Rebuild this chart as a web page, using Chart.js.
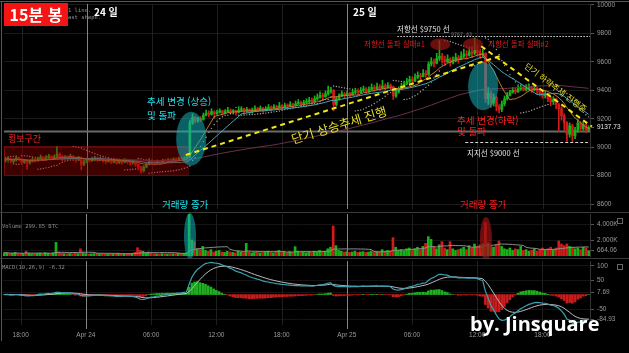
<!DOCTYPE html>
<html lang="ko">
<head>
<meta charset="utf-8">
<title>15분 봉</title>
<script src="https://cdn.jsdelivr.net/npm/chart.js@4.4.1/dist/chart.umd.min.js"></script>
<style>
html,body{margin:0;padding:0;background:#000;overflow:hidden;}
#wrap{position:relative;width:629px;height:353px;background:#000;overflow:hidden;}
#wrap canvas{position:absolute;left:0;display:block;}
.t{position:absolute;white-space:nowrap;line-height:1;font-family:"Noto Sans CJK KR","Noto Sans",sans-serif;}
.mono{font-family:"DejaVu Sans Mono",monospace;color:#8e8e8e;font-size:5.5px;}
.rule{position:absolute;background:#3a3a3a;}
.rot{transform-origin:50% 50%;}
</style>
</head>
<body>
<div id="wrap">
<canvas id="cPrice" width="629" height="213" style="top:0"></canvas>
<canvas id="cVol" width="629" height="45" style="top:213px"></canvas>
<canvas id="cMacd" width="629" height="95" style="top:258px"></canvas>

<div class="rule" style="left:0;top:1px;width:629px;height:1px;background:#555"></div>
<div class="rule" style="left:1px;top:1px;width:1px;height:340px;background:#555"></div>
<div class="rule" style="left:0;top:212px;width:629px;height:1px"></div>
<div class="rule" style="left:0;top:258px;width:629px;height:1px"></div>
<div class="rule" style="left:617px;top:218px;width:4px;height:4px;background:none;border:1px solid #666"></div>
<div class="rule" style="left:617px;top:264px;width:4px;height:4px;background:none;border:1px solid #666"></div>

<div class="t mono" style="left:68px;top:8px">1 line.</div>
<div class="t mono" style="left:68px;top:15px">ast shape.</div>
<div class="t" style="left:4px;top:3px;width:64px;height:23px;background:#f51414;color:#fff;font-weight:700;font-size:16px;line-height:23px;text-align:center">15분 봉</div>
<div class="t" style="left:94px;top:7px;color:#fff;font-size:10px;font-weight:700">24 일</div>
<div class="t" style="left:353px;top:7px;color:#fff;font-size:10px;font-weight:700">25 일</div>
<div class="t" style="left:397px;top:25px;color:#e6e6e6;font-size:7.5px">저항선 $9750 선</div>
<div class="t mono" style="left:451px;top:32px;font-size:5px;color:#777">9767.43</div>
<div class="t" style="left:364px;top:40px;color:#e41b1b;font-size:7.5px">저항선 돌파 실패#1</div>
<div class="t" style="left:488px;top:40px;color:#e41b1b;font-size:7.5px">저항선 돌파 실패#2</div>
<div class="t" style="left:147px;top:97px;color:#1ee6f2;font-size:9.5px">추세 변경 (상승)</div>
<div class="t" style="left:147px;top:111px;color:#1ee6f2;font-size:9.5px">및 돌파</div>
<div class="t" style="left:8px;top:134px;color:#ff2222;font-size:9px">횡보구간</div>
<div class="t rot" style="left:339px;top:125px;color:#e6dc28;font-size:12.5px;transform:translate(-50%,-50%) rotate(-17deg)">단기 상승추세 진행</div>
<div class="t rot" style="left:556px;top:87px;color:#e6dc28;font-size:8.5px;transform:translate(-50%,-50%) rotate(37deg)">단기 하락추세 진행중</div>
<div class="t" style="left:457px;top:116px;color:#ff2020;font-size:9.5px">추세 변경(하락)</div>
<div class="t" style="left:457px;top:127px;color:#ff2020;font-size:9.5px">및 돌파</div>
<div class="t" style="left:467px;top:149px;color:#e6e6e6;font-size:7.5px">지지선 $9000 선</div>
<div class="t" style="left:162px;top:200px;color:#1ee6f2;font-size:9.5px">거래량 증가</div>
<div class="t" style="left:460px;top:200px;color:#ff2020;font-size:9.5px">거래량 증가</div>
<div class="t mono" style="left:2px;top:224px">Volume 299.85 BTC</div>
<div class="t mono" style="left:2px;top:265px">MACD(10,26,9) -6.32</div>
<div class="t" style="left:470px;top:314px;color:#fff;font-size:20px;font-weight:700;font-family:'Open Sans','Noto Sans',sans-serif">by. Jinsquare</div>
</div>

<script>
// ---------------- DATA (15-minute candles) ----------------
const firstOpen = 8905;
const closes = [
  8915, 8920, 8900, 8910, 8925, 8915, 8895, 8905, 8890, 8900, 8910, 8905,
  8920, 8930, 8915, 8925, 8935, 8920, 8930, 8950, 8935, 8920, 8930, 8925,
  8935, 8920, 8910, 8925, 8880, 8895, 8910, 8905, 8915, 8925, 8910, 8920,
  8905, 8900, 8910, 8895, 8905, 8890, 8900, 8895, 8910, 8900, 8890, 8895,
  8880, 8860, 8835, 8860, 8880, 8905, 8895, 8890, 8900, 8895, 8905, 8900,
  8910, 8905, 8915, 8910, 8920, 8915, 8925, 8930, 9170, 9210, 9185, 9200,
  9195, 9225, 9240, 9230, 9250, 9235, 9245, 9255, 9240, 9250, 9260, 9250,
  9255, 9245, 9260, 9270, 9255, 9265, 9250, 9260, 9270, 9265, 9275, 9260,
  9270, 9280, 9275, 9285, 9280, 9290, 9285, 9295, 9290, 9300, 9295, 9305,
  9315, 9305, 9315, 9320, 9330, 9320, 9340, 9350, 9365, 9355, 9375, 9395,
  9400, 9300, 9340, 9360, 9375, 9365, 9380, 9370, 9385, 9395, 9385, 9400,
  9410, 9395, 9405, 9420, 9410, 9425, 9415, 9430, 9420, 9435, 9425, 9360,
  9390, 9410, 9430, 9445, 9460, 9475, 9465, 9490, 9505, 9495, 9520, 9510,
  9585, 9600, 9590, 9625, 9640, 9615, 9600, 9620, 9595, 9610, 9630, 9615,
  9640, 9655, 9645, 9670, 9660, 9680, 9665, 9650, 9660, 9340, 9380, 9310,
  9350, 9285, 9265, 9305, 9340, 9365, 9385, 9400, 9390, 9410, 9420, 9405,
  9415, 9420, 9405, 9415, 9395, 9380, 9360, 9370, 9340, 9320, 9335, 9300,
  9270, 9220, 9170, 9090, 9150, 9080, 9120, 9170, 9130, 9160, 9120, 9137.73
];
const highs = [
  8930, 8935, 8925, 8920, 8940, 8930, 8920, 8915, 8910, 8910, 8925, 8920,
  8930, 8945, 8935, 8940, 8950, 8940, 8945, 9005, 8960, 8945, 8940, 8940,
  8950, 8940, 8930, 8935, 8930, 8910, 8920, 8920, 8930, 8935, 8930, 8930,
  8925, 8915, 8920, 8915, 8915, 8910, 8910, 8905, 8920, 8915, 8905, 8905,
  8900, 8885, 8865, 8870, 8890, 8920, 8910, 8905, 8910, 8905, 8915, 8915,
  8920, 8920, 8925, 8925, 8930, 8930, 8935, 8945, 9190, 9235, 9215, 9210,
  9215, 9240, 9260, 9255, 9270, 9255, 9260, 9270, 9260, 9265, 9280, 9270,
  9265, 9260, 9285, 9285, 9275, 9280, 9270, 9275, 9290, 9280, 9290, 9280,
  9285, 9300, 9290, 9300, 9295, 9315, 9300, 9310, 9305, 9320, 9310, 9325,
  9335, 9325, 9330, 9340, 9350, 9345, 9360, 9375, 9390, 9380, 9395, 9430,
  9420, 9405, 9355, 9375, 9395, 9385, 9395, 9385, 9400, 9415, 9410, 9420,
  9430, 9420, 9425, 9445, 9435, 9450, 9440, 9470, 9445, 9455, 9445, 9430,
  9405, 9425, 9450, 9465, 9485, 9500, 9495, 9515, 9530, 9520, 9545, 9540,
  9600, 9630, 9620, 9660, 9750, 9660, 9640, 9650, 9630, 9635, 9660, 9645,
  9670, 9690, 9680, 9700, 9710, 9767.43, 9720, 9690, 9690, 9665, 9420, 9395,
  9375, 9360, 9300, 9325, 9360, 9385, 9400, 9420, 9415, 9430, 9440, 9435,
  9440, 9445, 9430, 9435, 9425, 9410, 9395, 9395, 9380, 9355, 9355, 9345,
  9310, 9285, 9235, 9180, 9170, 9160, 9140, 9195, 9180, 9180, 9165, 9150
];
const lows = [
  8895, 8905, 8890, 8880, 8900, 8905, 8880, 8885, 8845, 8880, 8895, 8895,
  8900, 8915, 8905, 8910, 8920, 8910, 8915, 8925, 8920, 8905, 8915, 8910,
  8920, 8905, 8895, 8905, 8840, 8870, 8890, 8895, 8900, 8905, 8900, 8905,
  8895, 8885, 8895, 8885, 8890, 8880, 8885, 8880, 8890, 8885, 8875, 8880,
  8865, 8840, 8817.2, 8825, 8855, 8875, 8880, 8875, 8885, 8880, 8890, 8890,
  8895, 8895, 8900, 8900, 8905, 8905, 8910, 8915, 8925, 9160, 9170, 9175,
  9180, 9190, 9220, 9215, 9225, 9205, 9230, 9240, 9225, 9235, 9245, 9235,
  9240, 9225, 9240, 9250, 9240, 9245, 9235, 9240, 9255, 9250, 9255, 9245,
  9255, 9265, 9255, 9270, 9265, 9275, 9270, 9275, 9275, 9285, 9280, 9290,
  9300, 9290, 9295, 9305, 9310, 9305, 9320, 9330, 9345, 9335, 9350, 9365,
  9380, 9255, 9290, 9330, 9355, 9345, 9360, 9355, 9365, 9375, 9370, 9380,
  9390, 9380, 9385, 9400, 9395, 9405, 9400, 9410, 9400, 9415, 9405, 9335,
  9350, 9380, 9405, 9420, 9440, 9450, 9445, 9460, 9480, 9470, 9495, 9490,
  9505, 9570, 9565, 9585, 9610, 9590, 9575, 9595, 9570, 9585, 9600, 9590,
  9615, 9630, 9620, 9640, 9630, 9650, 9640, 9625, 9635, 9315, 9300, 9280,
  9290, 9255, 9240, 9250, 9290, 9330, 9360, 9380, 9375, 9385, 9400, 9395,
  9395, 9400, 9385, 9395, 9375, 9360, 9345, 9345, 9320, 9290, 9300, 9270,
  9110, 9190, 9120, 9040, 9070, 9040, 9060, 9105, 9110, 9120, 9100, 9110
];
const volumes = [
  420, 380, 300, 350, 450, 280, 320, 300, 600, 350, 280, 300,
  320, 380, 300, 420, 350, 300, 400, 1700, 500, 350, 300, 280,
  320, 300, 350, 300, 900, 400, 300, 260, 280, 300, 320, 280,
  300, 260, 280, 300, 250, 280, 300, 260, 280, 300, 320, 300,
  450, 1040, 700, 600, 450, 500, 350, 300, 280, 260, 300, 280,
  260, 300, 280, 300, 320, 300, 350, 400, 5300, 2000, 1800, 900,
  800, 1200, 700, 600, 800, 500, 600, 700, 500, 450, 600, 500,
  450, 400, 650, 500, 450, 1580, 500, 400, 450, 500, 400, 450,
  500, 600, 450, 400, 500, 700, 450, 500, 400, 550, 450, 1170,
  600, 450, 500, 400, 550, 450, 600, 500, 700, 550, 600, 900,
  1100, 3750, 1300, 700, 600, 500, 550, 450, 500, 600, 450, 500,
  550, 450, 500, 600, 450, 550, 500, 800, 600, 700, 650, 2300,
  1100, 700, 800, 650, 900, 1000, 700, 900, 1100, 800, 1200, 1580,
  2420, 2080, 1200, 900, 1400, 1800, 1000, 800, 1800, 900, 700, 800,
  900, 1100, 800, 1300, 1000, 1500, 1200, 1400, 1500, 4170, 1600, 1300,
  1100, 1400, 1875, 1200, 900, 800, 1000, 700, 900, 800, 1200, 700,
  800, 600, 700, 900, 600, 800, 1000, 700, 900, 1100, 800, 1000,
  1875, 1500, 1300, 1500, 1200, 1100, 900, 1000, 800, 1100, 1000, 664.06
];
const priceTicks = [8600, 8800, 9000, 9200, 9400, 9600, 9800, 10000];
const lastPrice = 9137.73;
const volumeTicks = [664.06, 2000, 4000];
const macdTicks = [-84.93, -50, 7.69, 50, 100];
const firstCandleTime = Date.UTC(2020, 3, 23, 16, 30);   // Apr 23 16:30, 15-minute bars
const MONTHS = ['Jan','Feb','Mar','Apr','May','Jun','Jul','Aug','Sep','Oct','Nov','Dec'];

[highs, lows, volumes].forEach(a => { if (a.length !== closes.length) throw new Error('length mismatch ' + a.length + ' vs ' + closes.length); });

// ---------------- derived ----------------
const categories = closes.map((_, i) => {
  const d = new Date(firstCandleTime + i * 15 * 60000);
  const hh = String(d.getUTCHours()).padStart(2, '0');
  const mm = String(d.getUTCMinutes()).padStart(2, '0');
  return MONTHS[d.getUTCMonth()] + ' ' + d.getUTCDate() + ' ' + hh + ':' + mm;
});
const opens = closes.map((c, i) => i === 0 ? firstOpen : closes[i - 1]);
const isUp = closes.map((c, i) => c >= opens[i]);
const candleColor = isUp.map(u => u ? '#17b217' : '#d41a1a');

function sma(arr, n) {
  return arr.map((_, i) => {
    const s = Math.max(0, i - n + 1);
    let t = 0; for (let k = s; k <= i; k++) t += arr[k];
    return t / (i - s + 1);
  });
}
function ema(arr, n) {
  const k = 2 / (n + 1); let e = arr[0];
  return arr.map((v, i) => (e = i === 0 ? v : v * k + e * (1 - k)));
}
function parabolicSar(h, l, step, maxStep) {
  const out = [null];
  let up = closes[1] >= closes[0], af = step, ep = up ? h[0] : l[0], sar = up ? l[0] : h[0];
  for (let i = 1; i < h.length; i++) {
    sar = sar + af * (ep - sar);
    if (up) {
      sar = Math.min(sar, l[i - 1], l[Math.max(0, i - 2)]);
      if (l[i] < sar) { up = false; sar = ep; ep = l[i]; af = step; }
      else if (h[i] > ep) { ep = h[i]; af = Math.min(af + step, maxStep); }
    } else {
      sar = Math.max(sar, h[i - 1], h[Math.max(0, i - 2)]);
      if (h[i] > sar) { up = true; sar = ep; ep = h[i]; af = step; }
      else if (l[i] < ep) { ep = l[i]; af = Math.min(af + step, maxStep); }
    }
    out.push(sar);
  }
  return out;
}
const ma10 = sma(closes, 10), ma20 = sma(closes, 20), ma100 = sma(closes, 100);
const sar = parabolicSar(highs, lows, 0.02, 0.2);
const volMa = sma(volumes, 15);
const e10 = ema(closes, 10), e26 = ema(closes, 26);
const macd = e10.map((v, i) => v - e26[i]);
const signal = ema(macd, 9);
const hist = macd.map((v, i) => v - signal[i]);

// ---------------- chart helpers ----------------
Chart.defaults.font.family = "'Liberation Sans', sans-serif";
Chart.defaults.font.size = 6.5;
Chart.defaults.color = '#9a9a9a';
const AXIS_W = 39;

function timeParts(i) {
  const [mo, dy, hm] = categories[i].split(' ');
  const [h, m] = hm.split(':').map(Number);
  return { mo, dy, hm, h, m };
}
const vgrid = {
  id: 'vgrid',
  beforeDatasetsDraw(chart, args, opts) {
    const { ctx, chartArea: a, scales: { x } } = chart;
    ctx.save();
    ctx.lineWidth = 1;
    categories.forEach((c, i) => {
      const t = timeParts(i);
      if (t.m !== 0 || t.h % 6 !== 0) return;
      const px = Math.round(x.getPixelForValue(i)) + 0.5;
      ctx.strokeStyle = t.h === 0 ? '#858585' : '#1f1f1f';
      ctx.beginPath();
      ctx.moveTo(px, a.top - (opts.extTop || 0));
      ctx.lineTo(px, a.bottom + (t.h === 0 ? (opts.extBottom || 0) : 0));
      ctx.stroke();
    });
    if (opts.level) {
      const y = chart.scales.y;
      const py = y.getPixelForValue(opts.level);
      ctx.strokeStyle = '#6a6a6a'; ctx.lineWidth = 2;
      ctx.beginPath(); ctx.moveTo(a.left, py); ctx.lineTo(a.right, py); ctx.stroke();
    }
    ctx.restore();
  }
};
function ellipse(ctx, cx, cy, rx, ry, fill) {
  ctx.beginPath(); ctx.ellipse(cx, cy, rx, ry, 0, 0, Math.PI * 2);
  ctx.fillStyle = fill; ctx.fill();
}
const priceNotes = {
  id: 'priceNotes',
  afterDatasetsDraw(chart) {
    const { ctx, chartArea: a, scales: { x, y } } = chart;
    const X = v => x.getPixelForValue(v), Y = v => y.getPixelForValue(v);
    ctx.save();
    // sideways zone box
    ctx.fillStyle = 'rgba(150,0,0,0.42)';
    ctx.fillRect(a.left, Y(9007), X(67.2) - a.left, Y(8807) - Y(9007));
    ctx.strokeStyle = 'rgba(150,20,20,0.6)'; ctx.lineWidth = 1;
    ctx.strokeRect(a.left + 0.5, Y(9007) + 0.5, X(67.2) - a.left, Y(8807) - Y(9007));
    // ellipses
    ellipse(ctx, X(68.5), Y(9060), 15, 27, 'rgba(20,175,185,0.55)');
    ellipse(ctx, X(176.1), Y(9428), 15, 24, 'rgba(20,175,185,0.55)');
    ellipse(ctx, X(160.3), Y(9724), 10, 6, 'rgba(150,20,20,0.72)');
    ellipse(ctx, X(172.4), Y(9724), 10, 6, 'rgba(150,20,20,0.72)');
    // resistance (dotted) and support (dashed) lines
    ctx.strokeStyle = '#d8d8d8'; ctx.lineWidth = 1;
    ctx.setLineDash([1.5, 1.5]);
    ctx.beginPath(); ctx.moveTo(X(144.5), Math.round(Y(9780)) + 0.5); ctx.lineTo(a.right, Math.round(Y(9780)) + 0.5); ctx.stroke();
    ctx.setLineDash([3, 2]);
    ctx.beginPath(); ctx.moveTo(X(169.5), Math.round(Y(9034)) + 0.5); ctx.lineTo(a.right - 2, Math.round(Y(9034)) + 0.5); ctx.stroke();
    // trend lines
    ctx.strokeStyle = '#f2e614'; ctx.lineWidth = 2; ctx.setLineDash([5, 4]);
    ctx.beginPath(); ctx.moveTo(X(66.5), Y(8945)); ctx.lineTo(X(182.4), Y(9641)); ctx.stroke();
    ctx.beginPath(); ctx.moveTo(X(175.4), Y(9710)); ctx.lineTo(X(216.2), Y(9145)); ctx.stroke();
    ctx.restore();
  }
};
const volNotes = {
  id: 'volNotes',
  afterDatasetsDraw(chart) {
    const { ctx, scales: { x } } = chart;
    ctx.save();
    ellipse(ctx, x.getPixelForValue(68.3), 23, 6, 23, 'rgba(20,175,185,0.55)');
    ellipse(ctx, x.getPixelForValue(177.2), 26, 6, 22, 'rgba(150,20,20,0.72)');
    ctx.restore();
  }
};
function yAxis(min, max, ticks, fmt, tickColor, gridColor) {
  return {
    position: 'right', min, max,
    afterBuildTicks: s => { s.ticks = ticks.map(v => ({ value: v })); },
    afterFit: s => { s.width = AXIS_W; s.paddingTop = 0; s.paddingBottom = 0; },
    ticks: { autoSkip: false, padding: 3, callback: fmt, color: tickColor || '#9a9a9a' },
    grid: { color: gridColor || '#1b1b1b', tickLength: 4, tickColor: '#555', drawOnChartArea: true },
    border: { display: true, color: '#333' }
  };
}
const common = {
  responsive: false, animation: false, events: [],
  plugins: { legend: { display: false }, tooltip: { enabled: false } }
};

// ---------------- price chart ----------------
const priceTickValues = priceTicks.concat([lastPrice]).sort((a, b) => a - b);
new Chart(document.getElementById('cPrice'), {
  type: 'bar',
  data: {
    labels: categories,
    datasets: [
      { type: 'line', label: 'MA10', data: ma10, borderColor: '#c27a34', borderWidth: 1, pointRadius: 0, order: 1 },
      { type: 'line', label: 'MA20', data: ma20, borderColor: '#45aab9', borderWidth: 1, pointRadius: 0, order: 1 },
      { type: 'line', label: 'MA100', data: ma100, borderColor: '#6e3250', borderWidth: 1, pointRadius: 0, order: 1 },
      { type: 'line', label: 'SAR', data: sar, showLine: false, pointRadius: 0.7, pointBorderWidth: 0, pointBackgroundColor: '#a8a8a8', order: 1 },
      { label: 'wick', data: lows.map((l, i) => [l, highs[i]]), backgroundColor: candleColor, barThickness: 1, grouped: false, order: 3 },
      { label: 'body', data: opens.map((o, i) => [o, closes[i]]), backgroundColor: candleColor, barThickness: 2, grouped: false, minBarLength: 1, order: 2 }
    ]
  },
  options: Object.assign({}, common, {
    layout: { padding: { left: 3, right: 0, top: 3, bottom: 1 } },
    scales: {
      x: { display: false },
      y: yAxis(8565, 10007, priceTickValues,
        v => v === lastPrice ? v.toFixed(2) : String(v),
        c => c.tick && c.tick.value === lastPrice ? '#e8e8e8' : '#9a9a9a',
        c => c.tick && c.tick.value === lastPrice ? 'rgba(0,0,0,0)' : '#1b1b1b')
    },
    plugins: Object.assign({}, common.plugins, { vgrid: { level: 9110 } })
  }),
  plugins: [vgrid, priceNotes]
});

// ---------------- volume chart ----------------
new Chart(document.getElementById('cVol'), {
  type: 'bar',
  data: {
    labels: categories,
    datasets: [
      { type: 'line', label: 'Volume MA', data: volMa, borderColor: '#8f8f8f', borderWidth: 1, pointRadius: 0, order: 1 },
      { label: 'Volume', data: volumes, backgroundColor: candleColor, barThickness: 2, order: 2 }
    ]
  },
  options: Object.assign({}, common, {
    layout: { padding: { left: 3, right: 0, top: 1, bottom: 2 } },
    scales: {
      x: { display: false },
      y: yAxis(0, 5250, volumeTicks, v => v >= 1000 ? (v / 1000).toFixed(3) + 'K' : v.toFixed(2), null, '#141414')
    },
    plugins: Object.assign({}, common.plugins, { vgrid: {} })
  }),
  plugins: [vgrid, volNotes]
});

// ---------------- MACD chart ----------------
new Chart(document.getElementById('cMacd'), {
  type: 'bar',
  data: {
    labels: categories,
    datasets: [
      { type: 'line', label: 'MACD', data: macd, borderColor: '#3f9fb2', borderWidth: 1.2, pointRadius: 0, order: 1 },
      { type: 'line', label: 'Signal', data: signal, borderColor: '#bdbdbd', borderWidth: 1, pointRadius: 0, order: 2 },
      { label: 'Histogram', data: hist, backgroundColor: hist.map(v => v >= 0 ? '#1fb01f' : '#c81c1c'), barThickness: 2, order: 3 }
    ]
  },
  options: Object.assign({}, common, {
    layout: { padding: { left: 3, right: 0, top: 3, bottom: 0 } },
    scales: {
      x: {
        afterFit: s => { s.height = 28; s.paddingLeft = 0; s.paddingRight = 0; },
        grid: { display: false, drawTicks: false },
        border: { display: false },
        ticks: {
          autoSkip: false, maxRotation: 0, minRotation: 0, padding: 6, color: '#9a9a9a',
          callback: (v) => { const t = timeParts(v); if (t.m !== 0 || t.h % 6 !== 0) return null; return t.h === 0 ? t.mo + ' ' + t.dy : t.hm; }
        }
      },
      y: yAxis(-105.4, 116.3, macdTicks, v => String(v), null, '#141414')
    },
    plugins: Object.assign({}, common.plugins, { vgrid: { extBottom: 4 } })
  }),
  plugins: [vgrid]
});
</script>
</body>
</html>
